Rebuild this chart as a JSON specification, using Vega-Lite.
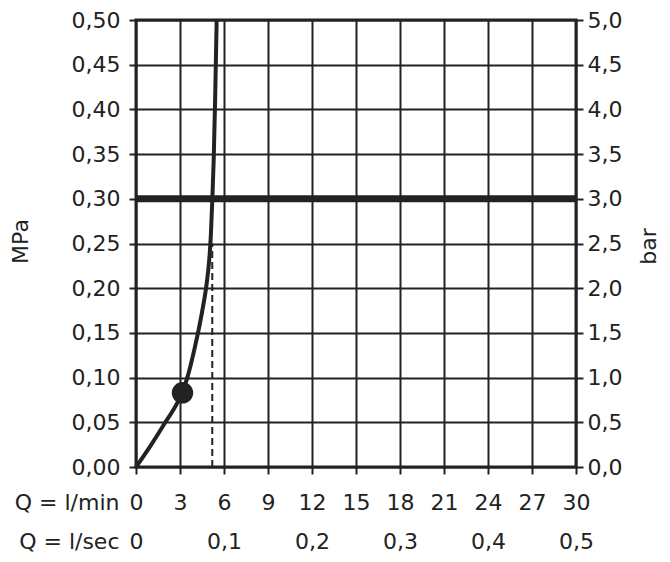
{
  "$schema": "https://vega.github.io/schema/vega-lite/v6.json",
  "width": 440,
  "height": 447,
  "autosize": {"type": "none"},
  "padding": {"left": 136, "top": 20, "right": 94, "bottom": 95},
  "background": "white",
  "config": {
    "font": "DejaVu Sans",
    "view": {"stroke": "#222", "strokeWidth": 3},
    "axis": {
      "domain": false,
      "gridColor": "#222",
      "gridWidth": 2,
      "gridOpacity": 1,
      "tickColor": "#222",
      "tickWidth": 2,
      "tickSize": 7,
      "labelFlush": false,
      "labelFont": "DejaVu Sans",
      "labelFontSize": 22,
      "labelColor": "#222",
      "titleFont": "DejaVu Sans",
      "titleFontSize": 22,
      "titleFontWeight": "normal",
      "titleColor": "#222"
    }
  },
  "datasets": {
    "curve": [
      {"q": 0, "p": 0},
      {"q": 1, "p": 0.024},
      {"q": 2, "p": 0.05},
      {"q": 3, "p": 0.078},
      {"q": 3.5, "p": 0.1},
      {"q": 4, "p": 0.133},
      {"q": 4.5, "p": 0.173},
      {"q": 4.8, "p": 0.203},
      {"q": 5.0, "p": 0.233},
      {"q": 5.1, "p": 0.258},
      {"q": 5.2, "p": 0.298},
      {"q": 5.3, "p": 0.345},
      {"q": 5.4, "p": 0.415},
      {"q": 5.5, "p": 0.5}
    ],
    "marker": [{"q": 3.17, "p": 0.083}],
    "dash": [{"q": 5.2, "p0": 0, "p1": 0.25}],
    "limit": [{"bar": 3.0}]
  },
  "layer": [
    {
      "data": {"name": "limit"},
      "mark": {"type": "rule", "color": "#222", "strokeWidth": 7},
      "encoding": {
        "y": {
          "field": "bar",
          "type": "quantitative",
          "scale": {"domain": [0, 5], "nice": false},
          "axis": {
            "orient": "right",
            "values": [0, 0.5, 1, 1.5, 2, 2.5, 3, 3.5, 4, 4.5, 5],
            "labelExpr": "replace(format(datum.value, '.1f'), '.', ',')",
            "labelPadding": 4,
            "grid": false,
            "title": "bar",
            "titleAngle": 270,
            "titleBaseline": "middle",
            "titleAlign": "center",
            "titleX": 72,
            "titleY": 226
          }
        }
      }
    },
    {
      "layer": [
        {
          "data": {"name": "dash"},
          "mark": {"type": "rule", "color": "#222", "strokeWidth": 2, "strokeDash": [7, 4]},
          "encoding": {
            "x": {"field": "q", "type": "quantitative"},
            "y": {"field": "p0", "type": "quantitative"},
            "y2": {"field": "p1"}
          }
        },
        {
          "data": {"name": "curve"},
          "mark": {"type": "line", "color": "#222", "strokeWidth": 4, "interpolate": "monotone"},
          "encoding": {
            "x": {
              "field": "q",
              "type": "quantitative",
              "scale": {"domain": [0, 30], "nice": false},
              "axis": {
                "values": [0, 3, 6, 9, 12, 15, 18, 21, 24, 27, 30],
                "labelExpr": "[datum.label, datum.value == 0 ? '0' : (datum.value % 6 == 0 ? replace(format(datum.value / 60, '.1f'), '.', ',') : '')]",
                "labelLineHeight": 39,
                "labelPadding": 18,
                "labelOverlap": false,
                "labelBound": false,
                "title": ["Q = l/min", "Q = l/sec"],
                "titleAnchor": "start",
                "titleAlign": "right",
                "titleBaseline": "top",
                "titleLineHeight": 39,
                "titleX": -17,
                "titleY": 25
              }
            },
            "y": {
              "field": "p",
              "type": "quantitative",
              "scale": {"domain": [0, 0.5], "nice": false},
              "axis": {
                "orient": "left",
                "grid": true,
                "values": [0, 0.05, 0.1, 0.15, 0.2, 0.25, 0.3, 0.35, 0.4, 0.45, 0.5],
                "labelExpr": "replace(format(datum.value, '.2f'), '.', ',')",
                "labelPadding": 9,
                "title": "MPa",
                "titleBaseline": "middle",
                "titleAlign": "center",
                "titleX": -116,
                "titleY": 221
              }
            }
          }
        },
        {
          "data": {"name": "marker"},
          "mark": {"type": "circle", "color": "#222", "opacity": 1, "size": 460},
          "encoding": {
            "x": {"field": "q", "type": "quantitative"},
            "y": {"field": "p", "type": "quantitative"}
          }
        }
      ]
    }
  ],
  "resolve": {"scale": {"y": "independent"}}
}
